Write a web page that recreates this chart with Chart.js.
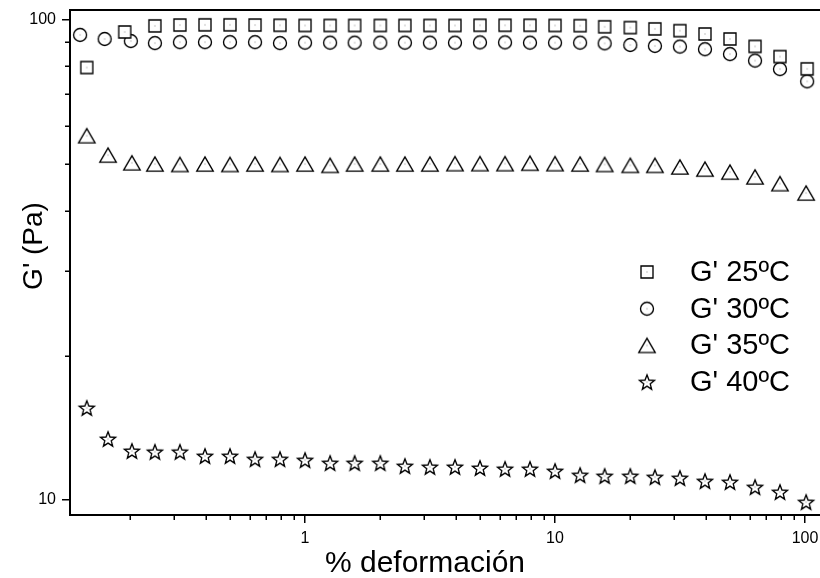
<!DOCTYPE html>
<html>
<head>
<meta charset="utf-8">
<script src="https://cdn.jsdelivr.net/npm/chart.js@4.4.1/dist/chart.umd.min.js"></script>
<style>
  html, body { margin: 0; padding: 0; background: #ffffff; }
  #wrap { width: 820px; height: 578px; position: relative; }
</style>
</head>
<body>
<div id="wrap"><canvas id="chart" width="820" height="578"></canvas></div>
<script>
// ---------------- DATA ----------------
const seriesLabels = ["G' 25\u00BAC", "G' 30\u00BAC", "G' 35\u00BAC", "G' 40\u00BAC"];

const strain25 = [0.134, 0.19, 0.251, 0.316, 0.398, 0.501, 0.631, 0.794, 1, 1.26, 1.58, 2, 2.51, 3.16, 3.98, 5.01, 6.31, 7.94, 10, 12.6, 15.8, 20, 25.1, 31.6, 39.8, 50.1, 63.1, 79.4, 102];
const g25 = [79.6, 94.4, 97.2, 97.6, 97.7, 97.7, 97.6, 97.5, 97.4, 97.4, 97.4, 97.4, 97.4, 97.4, 97.4, 97.5, 97.5, 97.5, 97.4, 97.3, 96.8, 96.4, 95.8, 95.0, 93.5, 91.3, 88.1, 83.9, 79.1];

const strain30 = [0.126, 0.158, 0.201, 0.251, 0.316, 0.398, 0.501, 0.631, 0.794, 1, 1.26, 1.58, 2, 2.51, 3.16, 3.98, 5.01, 6.31, 7.94, 10, 12.6, 15.8, 20, 25.1, 31.6, 39.8, 50.1, 63.1, 79.4, 102];
const g30 = [93.1, 91.3, 90.4, 89.5, 89.9, 89.9, 89.9, 89.9, 89.5, 89.7, 89.7, 89.7, 89.7, 89.7, 89.7, 89.7, 89.8, 89.8, 89.7, 89.7, 89.7, 89.4, 88.7, 88.3, 88.0, 86.9, 84.9, 82.3, 79.0, 74.5];

const strain35 = [0.134, 0.163, 0.203, 0.251, 0.316, 0.398, 0.501, 0.631, 0.794, 1, 1.26, 1.58, 2, 2.51, 3.16, 3.98, 5.01, 6.31, 7.94, 10, 12.6, 15.8, 20, 25.1, 31.6, 39.8, 50.1, 63.1, 79.4, 101];
const g35 = [57.4, 52.3, 50.4, 50.1, 50.0, 50.1, 50.0, 50.1, 50.0, 50.1, 49.8, 50.1, 50.1, 50.1, 50.1, 50.2, 50.2, 50.2, 50.3, 50.2, 50.1, 50.0, 49.8, 49.8, 49.4, 48.9, 48.2, 47.1, 45.6, 43.6];

const strain40 = [0.134, 0.163, 0.203, 0.251, 0.316, 0.398, 0.501, 0.631, 0.794, 1, 1.26, 1.58, 2, 2.51, 3.16, 3.98, 5.01, 6.31, 7.94, 10, 12.6, 15.8, 20, 25.1, 31.6, 39.8, 50.1, 63.1, 79.4, 101];
const g40 = [15.55, 13.4, 12.65, 12.6, 12.6, 12.35, 12.35, 12.17, 12.17, 12.11, 11.94, 11.94, 11.94, 11.77, 11.72, 11.72, 11.66, 11.61, 11.61, 11.49, 11.27, 11.22, 11.22, 11.16, 11.11, 10.95, 10.9, 10.64, 10.39, 9.9];

const xMajorTicks = [1, 10, 100];
const xMinorTicks = [0.2, 0.3, 0.4, 0.5, 0.6, 0.7, 0.8, 0.9, 2, 3, 4, 5, 6, 7, 8, 9, 20, 30, 40, 50, 60, 70, 80, 90];
const yMajorTicks = [10, 100];
const yMinorTicks = [20, 30, 40, 50, 60, 70, 80, 90];

const xTitle = "% deformaci\u00F3n";
const yTitle = "G' (Pa)";

// ---------------- MARKERS ----------------
const FONT = "'Liberation Sans', Arial, Helvetica, sans-serif";

function makeMarker(shape) {
  const S = 22;
  const cv = document.createElement('canvas');
  cv.width = S; cv.height = S;
  const c = cv.getContext('2d');
  const cx = S / 2, cy = S / 2;
  c.strokeStyle = '#000';
  c.lineWidth = 1.35;
  c.lineJoin = 'miter';
  c.beginPath();
  if (shape === 'square') {
    c.rect(cx - 6, cy - 6, 12, 12);
  } else if (shape === 'circle') {
    c.arc(cx, cy, 6.5, 0, Math.PI * 2);
  } else if (shape === 'triangle') {
    const w = 16.5, h = 14.3;
    c.moveTo(cx, cy - h / 2);
    c.lineTo(cx + w / 2, cy + h / 2);
    c.lineTo(cx - w / 2, cy + h / 2);
    c.closePath();
  } else if (shape === 'star') {
    const R = 7.9, r = 3.4;
    const h = R * (1 + Math.cos(Math.PI / 5));
    const oy = cy - h / 2 + R; // centre the bounding box
    for (let i = 0; i < 10; i++) {
      const rad = (i % 2 === 0) ? R : r;
      const a = -Math.PI / 2 + i * Math.PI / 5;
      const px = cx + rad * Math.cos(a), py = oy + rad * Math.sin(a);
      if (i === 0) c.moveTo(px, py); else c.lineTo(px, py);
    }
    c.closePath();
  }
  c.fillStyle = '#fff';
  c.fill();
  c.stroke();
  c.fillStyle = '#888';
  c.fillRect(cx - 0.5, cy - 0.5, 1, 1);
  return cv;
}

const markers = [makeMarker('square'), makeMarker('circle'), makeMarker('triangle'), makeMarker('star')];

function toPoints(xs, ys) { return xs.map((x, i) => ({ x: x, y: ys[i] })); }

const datasets = [
  { label: seriesLabels[0], data: toPoints(strain25, g25) },
  { label: seriesLabels[1], data: toPoints(strain30, g30) },
  { label: seriesLabels[2], data: toPoints(strain35, g35) },
  { label: seriesLabels[3], data: toPoints(strain40, g40) }
].map((d, i) => Object.assign(d, {
  showLine: false,
  pointStyle: markers[i],
  pointRadius: 8,
  pointHoverRadius: 8,
  borderColor: '#000',
  backgroundColor: '#fff'
}));

// ---------------- DECORATION PLUGIN (frame, minor ticks, titles, legend) ----------------
const decoPlugin = {
  id: 'deco',
  afterDraw(chart) {
    const ctx = chart.ctx;
    const a = chart.chartArea;
    const xs = chart.scales.x, ys = chart.scales.y;
    ctx.save();
    // top frame line
    ctx.strokeStyle = '#000';
    ctx.lineWidth = 2;
    ctx.beginPath();
    ctx.moveTo(a.left - 1, a.top);
    ctx.lineTo(a.right, a.top);
    ctx.stroke();
    // minor ticks (outward)
    ctx.lineWidth = 1.5;
    ctx.beginPath();
    xMinorTicks.forEach(v => {
      const px = Math.round(xs.getPixelForValue(v)) + 0.25;
      ctx.moveTo(px, a.bottom);
      ctx.lineTo(px, a.bottom + 5);
    });
    yMinorTicks.forEach(v => {
      const py = Math.round(ys.getPixelForValue(v)) + 0.25;
      ctx.moveTo(a.left, py);
      ctx.lineTo(a.left - 5, py);
    });
    ctx.stroke();
    // axis titles
    ctx.fillStyle = '#000';
    ctx.font = '30px ' + FONT;
    ctx.textAlign = 'center';
    ctx.textBaseline = 'alphabetic';
    ctx.fillText(xTitle, 425, 572);
    ctx.save();
    ctx.translate(42, 246);
    ctx.rotate(-Math.PI / 2);
    ctx.font = '28px ' + FONT;
    ctx.fillText(yTitle, 0, 0);
    ctx.restore();
    // legend inside plot
    ctx.font = '29px ' + FONT;
    ctx.textAlign = 'left';
    ctx.textBaseline = 'middle';
    chart.data.datasets.forEach((ds, i) => {
      const ry = 272 + i * 36.7;
      const m = ds.pointStyle;
      ctx.drawImage(m, 647 - m.width / 2, ry - m.height / 2);
      ctx.fillText(ds.label, 690, ry + 1);
    });
    ctx.restore();
  }
};

// ---------------- CHART ----------------
function zeroPad(s) {
  s.paddingLeft = 0; s.paddingRight = 0; s.paddingTop = 0; s.paddingBottom = 0;
}

new Chart(document.getElementById('chart'), {
  type: 'scatter',
  data: { datasets: datasets },
  options: {
    responsive: false,
    animation: false,
    events: [],
    layout: { autoPadding: false, padding: { top: 10, left: 0, right: 0, bottom: 0 } },
    plugins: { legend: { display: false }, tooltip: { enabled: false } },
    scales: {
      x: {
        type: 'logarithmic',
        min: 0.1148,
        max: 114.8,
        afterFit(s) { s.height = 63; zeroPad(s); },
        afterBuildTicks(s) { s.ticks = xMajorTicks.map(v => ({ value: v })); },
        ticks: { callback: v => String(v), font: { family: FONT, size: 16 }, color: '#000', padding: 6, maxRotation: 0, autoSkip: false },
        grid: { drawOnChartArea: false, drawTicks: true, tickLength: 8, color: '#000', lineWidth: 1.5 },
        border: { display: true, color: '#000', width: 2 }
      },
      y: {
        type: 'logarithmic',
        min: 9.306,
        max: 104.9,
        afterFit(s) { s.width = 70; zeroPad(s); },
        afterBuildTicks(s) { s.ticks = yMajorTicks.map(v => ({ value: v })); },
        ticks: { callback: v => String(v), font: { family: FONT, size: 16 }, color: '#000', padding: 6, autoSkip: false },
        grid: { drawOnChartArea: false, drawTicks: true, tickLength: 8, color: '#000', lineWidth: 1.5 },
        border: { display: true, color: '#000', width: 2 }
      }
    }
  },
  plugins: [decoPlugin]
});
</script>
</body>
</html>
